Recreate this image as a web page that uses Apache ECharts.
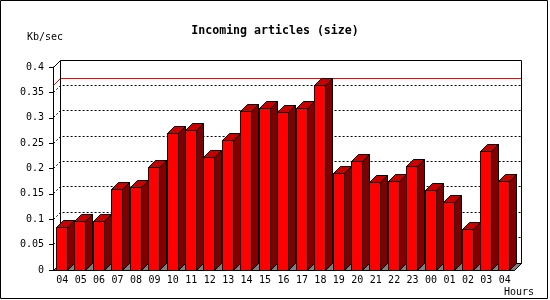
<!DOCTYPE html>
<html><head><meta charset="utf-8">
<script src="https://cdn.jsdelivr.net/npm/echarts@6/dist/echarts.min.js"></script>
<style>html,body{margin:0;padding:0;background:#fff}#c{width:550px;height:300px}</style>
</head><body><div id="c"></div>
<script>
const chartTitle = 'Incoming articles (size)';
const yUnit = 'Kb/sec';
const xUnit = 'Hours';
const hours = ['04','05','06','07','08','09','10','11','12','13','14','15','16','17','18','19','20','21','22','23','00','01','02','03','04'];
const values = [0.084,0.096,0.096,0.159,0.163,0.202,0.268,0.274,0.222,0.256,0.313,0.319,0.311,0.319,0.364,0.191,0.214,0.173,0.175,0.204,0.157,0.133,0.080,0.233,0.175];
const gridLevels = [0.05,0.10,0.15,0.20,0.25,0.30,0.35];
const yMin = 0, yMax = 0.4, yStep = 0.05;
const maxValue = Math.max(...values);

const D = 7;
const FONT = 'DejaVu Sans Mono';
const r = v => Math.round(v - 0.5) + 0.5;

const chart = echarts.init(document.getElementById('c'), null, {renderer: 'canvas'});

function renderFrame(params, api) {
  const cs = params.coordSys;
  const x0 = r(cs.x), xE = r(cs.x + cs.width);
  const yT = r(api.coord([0, yMax])[1]);
  const yB = r(api.coord([0, yMin])[1]);
  const black = {stroke: '#000', lineWidth: 1, fill: null};
  const children = [];
  children.push({type: 'polygon', shape: {points: [[x0, yB], [x0 + D, yB - D], [xE + D, yB - D], [xE, yB]]},
    style: {fill: '#808080', stroke: '#000', lineWidth: 1}});
  gridLevels.forEach(v => {
    const y = r(api.coord([0, v])[1]);
    children.push({type: 'polyline', shape: {points: [[x0, y], [x0 + D, y - D], [xE + D, y - D]]},
      style: {stroke: '#000', lineWidth: 1, lineDash: [2, 2], fill: null}});
  });
  const ym = r(api.coord([0, maxValue])[1]);
  children.push({type: 'polyline', shape: {points: [[x0, ym], [x0 + D, ym - D], [xE + D, ym - D]]},
    style: {stroke: '#ff0000', lineWidth: 1, fill: null}});
  children.push({type: 'polyline', shape: {points: [[x0, yT], [x0 + D, yT - D], [xE + D, yT - D], [xE + D, yB - D], [xE, yB]]}, style: black});
  children.push({type: 'polyline', shape: {points: [[x0 + D, yT - D], [x0 + D, yB - D]]}, style: black});
  children.push({type: 'polyline', shape: {points: [[x0, yB], [x0 + D, yB - D]]}, style: black});
  return {type: 'group', children};
}

function renderBar(params, api) {
  const idx = api.value(0), val = api.value(1);
  const top = api.coord([idx, val]);
  const base = api.coord([idx, yMin]);
  const bw = api.size([1, 0])[0];
  const x1 = r(top[0] - bw * 0.314);
  const x2 = r(x1 + bw * 0.574);
  const yt = r(top[1]);
  const yb = r(base[1]);
  const edge = {stroke: '#000', lineWidth: 1};
  return {type: 'group', children: [
    {type: 'polygon', shape: {points: [[x2, yt], [x2 + D, yt - D], [x2 + D, yb - D], [x2, yb]]},
      style: Object.assign({fill: '#800000'}, edge)},
    {type: 'polygon', shape: {points: [[x1, yt], [x1 + D, yt - D], [x2 + D, yt - D], [x2, yt]]},
      style: Object.assign({fill: '#c80000'}, edge)},
    {type: 'polygon', shape: {points: [[x1, yt], [x2, yt], [x2, yb], [x1, yb]]},
      style: Object.assign({fill: '#ff0000'}, edge)}
  ]};
}

chart.setOption({
  animation: false,
  backgroundColor: '#fff',
  title: {text: chartTitle, left: 'center', top: 20,
    textStyle: {fontFamily: FONT, fontWeight: 'bold', fontSize: 11.6, color: '#000'}},
  grid: {left: 53, right: 36, top: 67, bottom: 30},
  xAxis: {type: 'category', data: hours, boundaryGap: true,
    axisLine: {lineStyle: {color: '#000', width: 1}},
    axisTick: {length: 3, lineStyle: {color: '#000'}},
    axisLabel: {interval: 0, color: '#000', fontFamily: FONT, fontSize: 10, margin: 5}},
  yAxis: {type: 'value', min: yMin, max: yMax, interval: yStep,
    axisLine: {show: true, lineStyle: {color: '#000', width: 1}},
    axisTick: {show: true, length: 4, lineStyle: {color: '#000'}},
    splitLine: {show: false},
    axisLabel: {color: '#000', fontFamily: FONT, fontSize: 10, margin: 9}},
  graphic: [
    {type: 'rect', shape: {x: 0.5, y: 0.5, width: 547, height: 298}, style: {fill: null, stroke: '#000', lineWidth: 1}, z: 100},
    {type: 'text', left: 27, top: 32, style: {text: yUnit, font: '10px "DejaVu Sans Mono"', fill: '#000'}},
    {type: 'text', left: 504, top: 287, style: {text: xUnit, font: '10px "DejaVu Sans Mono"', fill: '#000'}}
  ],
  series: [
    {type: 'custom', renderItem: renderFrame, data: [[0, 0]], z: 1, silent: true, clip: false},
    {type: 'custom', renderItem: renderBar, data: values.map((v, i) => [i, v]), z: 3, silent: true, clip: false}
  ]
});
</script></body></html>
